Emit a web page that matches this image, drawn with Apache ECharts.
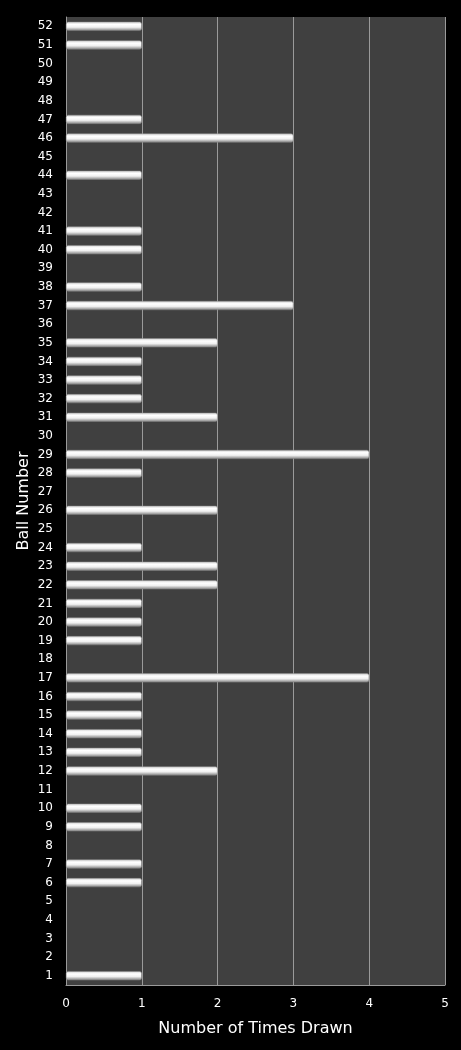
<!DOCTYPE html>
<html>
<head>
<meta charset="utf-8">
<script src="https://cdn.jsdelivr.net/npm/echarts@6/dist/echarts.min.js"></script>
<style>
  html, body { margin: 0; padding: 0; background: #000; }
  #chart { width: 461px; height: 1050px; }
</style>
</head>
<body>
<div id="chart"></div>
<script>
// ball numbers 1..52 (bottom to top)
const balls = ['1','2','3','4','5','6','7','8','9','10','11','12','13','14','15','16','17','18','19','20',
  '21','22','23','24','25','26','27','28','29','30','31','32','33','34','35','36','37','38','39','40',
  '41','42','43','44','45','46','47','48','49','50','51','52'];
// times drawn, same order as balls
const timesDrawn = [1,0,0,0,0,1,1,0,1,1,0,2,1,1,1,1,4,0,1,1,
  1,2,2,1,0,2,0,1,4,0,2,1,1,1,2,0,3,1,0,1,
  1,0,0,1,0,3,1,0,0,0,1,1];
const xTicks = [0, 1, 2, 3, 4, 5];

const chart = echarts.init(document.getElementById('chart'));

const barColor = new echarts.graphic.LinearGradient(0, 0, 0, 1, [
  { offset: 0, color: '#cfcfcf' },
  { offset: 0.3, color: '#ffffff' },
  { offset: 0.6, color: '#f0f0f0' },
  { offset: 1, color: '#7e7e7e' }
]);

const option = {
  backgroundColor: '#000',
  animation: false,
  textStyle: { fontFamily: 'DejaVu Sans' },
  grid: {
    left: 66, right: 16, top: 17, bottom: 65,
    show: true,
    backgroundColor: '#404040',
    borderWidth: 0
  },
  xAxis: {
    type: 'value',
    min: xTicks[0],
    max: xTicks[xTicks.length - 1],
    interval: 1,
    name: 'Number of Times Drawn',
    nameLocation: 'middle',
    nameGap: 36,
    nameTextStyle: { color: '#fff', fontSize: 16 },
    axisLine: { show: true, lineStyle: { color: '#9a9a9a', width: 1 } },
    axisTick: { show: false },
    axisLabel: { color: '#fff', fontSize: 12, margin: 13 },
    splitLine: { show: true, lineStyle: { color: '#9a9a9a', width: 1 } }
  },
  yAxis: {
    type: 'category',
    data: balls,
    name: 'Ball Number',
    nameLocation: 'middle',
    nameGap: 34,
    nameRotate: 90,
    nameMoveOverlap: false,
    nameTextStyle: { color: '#fff', fontSize: 16 },
    axisLine: { show: true, lineStyle: { color: '#9a9a9a', width: 1 } },
    axisTick: { show: false },
    axisLabel: { color: '#fff', fontSize: 12, margin: 13, interval: 0 },
    splitLine: { show: false }
  },
  series: [{
    type: 'bar',
    data: timesDrawn.map(v => (v === 0 ? null : v)),
    barWidth: 9,
    itemStyle: {
      color: barColor,
      borderColor: '#8a8a8a',
      borderWidth: 0.5,
      borderRadius: 2
    }
  }]
};

chart.setOption(option);
</script>
</body>
</html>
